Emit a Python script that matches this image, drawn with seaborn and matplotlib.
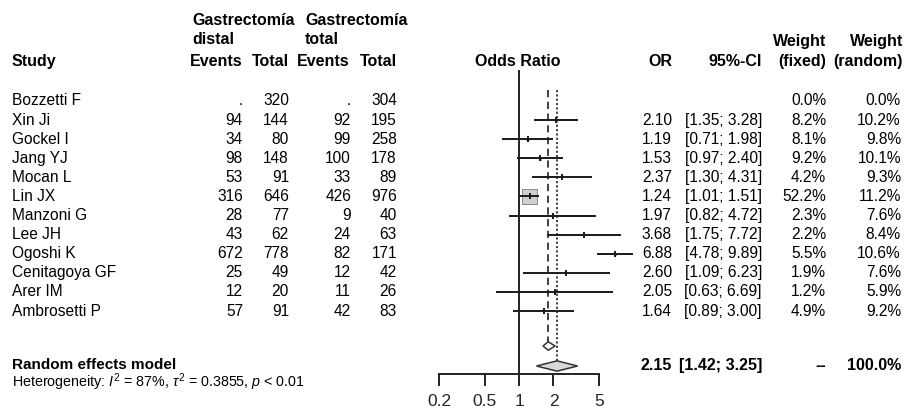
"""Forest plot: distal vs total gastrectomy (odds ratios)."""
import numpy as np
import pandas as pd
import matplotlib
matplotlib.use('Agg')
import matplotlib.pyplot as plt
import matplotlib.transforms as mtransforms
import seaborn as sns

studies = ['Bozzetti F', 'Xin Ji', 'Gockel I', 'Jang YJ', 'Mocan L', 'Lin JX',
           'Manzoni G', 'Lee JH', 'Ogoshi K', 'Cenitagoya GF', 'Arer IM', 'Ambrosetti P']
events_distal = ['.', '94', '34', '98', '53', '316', '28', '43', '672', '25', '12', '57']
total_distal = [320, 144, 80, 148, 91, 646, 77, 62, 778, 49, 20, 91]
events_total = ['.', '92', '99', '100', '33', '426', '9', '24', '82', '12', '11', '42']
total_total = [304, 195, 258, 178, 89, 976, 40, 63, 171, 42, 26, 83]
odds_ratio = [np.nan, 2.10, 1.19, 1.53, 2.37, 1.24, 1.97, 3.68, 6.88, 2.60, 2.05, 1.64]
ci_low = [np.nan, 1.35, 0.71, 0.97, 1.30, 1.01, 0.82, 1.75, 4.78, 1.09, 0.63, 0.89]
ci_high = [np.nan, 3.28, 1.98, 2.40, 4.31, 1.51, 4.72, 7.72, 9.89, 6.23, 6.69, 3.00]
weight_fixed = [0.0, 8.2, 8.1, 9.2, 4.2, 52.2, 2.3, 2.2, 5.5, 1.9, 1.2, 4.9]
weight_random = [0.0, 10.2, 9.8, 10.1, 9.3, 11.2, 7.6, 8.4, 10.6, 7.6, 5.9, 9.2]

# pooled estimates
fixed_or, fixed_lo, fixed_hi = 1.80, 1.62, 2.07
random_or, random_lo, random_hi = 2.15, 1.42, 3.25

x_ticks = [0.2, 0.5, 1, 2, 5]
x_tick_labels = ['0.2', '0.5', '1', '2', '5']

df = pd.DataFrame({'study': studies, 'ev_d': events_distal, 'tot_d': total_distal,
                   'ev_t': events_total, 'tot_t': total_total, 'or': odds_ratio,
                   'lo': ci_low, 'hi': ci_high, 'wf': weight_fixed, 'wr': weight_random})
df['row'] = np.arange(len(df))

sns.set_theme(style='white')
plt.rcParams['font.family'] = ['Liberation Sans', 'DejaVu Sans']
plt.rcParams['mathtext.fontset'] = 'custom'
plt.rcParams['mathtext.rm'] = 'Liberation Sans'
plt.rcParams['mathtext.it'] = 'Liberation Sans:italic'
plt.rcParams['mathtext.bf'] = 'Liberation Sans:bold'

W, H = 906, 412
fig = plt.figure(figsize=(W / 100, H / 100), dpi=100)
fig.patch.set_facecolor('white')

# pixel layout: row 0 at y=101px, step 19.1px
y0, step = 101.0, 19.1
ax = fig.add_axes([439 / W, 0, 160 / W, 1])
ax.set_xscale('log')
ax.set_xlim(0.2, 5)
ax.set_ylim((H - y0) / step, (0 - y0) / step)
ax.set_facecolor('none')
ax.minorticks_off()
for s in ['top', 'left', 'right']:
    ax.spines[s].set_visible(False)
axis_row = (374 - y0) / step
ax.spines['bottom'].set_position(('data', axis_row))
ax.spines['bottom'].set_bounds(0.2, 5)
ax.spines['bottom'].set_color('#222222')
ax.spines['bottom'].set_linewidth(1.4)
ax.set_xticks(x_ticks)
ax.set_xticklabels(x_tick_labels)
ax.tick_params(axis='x', direction='out', length=8.5, width=1.4, color='#222222',
               pad=6, labelsize=12.5, bottom=True)
ax.set_yticks([])

fixed_row = (346 - y0) / step
random_row = (366 - y0) / step

# reference lines
ax.vlines(1, (70 - y0) / step, axis_row, color='#222222', lw=1.4)
ax.vlines(fixed_or, (90 - y0) / step, fixed_row - 0.22, color='#333333', lw=1.3,
          linestyles=(0, (4, 2.5)))
ax.vlines(random_or, (90 - y0) / step, random_row - 0.27, color='#333333', lw=1.3,
          linestyles=(0, (1.2, 1.2)))

d = df.dropna(subset=['or'])
ax.hlines(d['row'], d['lo'], d['hi'], color='#1a1a1a', lw=1.4, clip_on=False, zorder=3)
box_px = 15 * d['wf'] / d['wf'].max()
sns.scatterplot(x=d['or'], y=d['row'], marker='s', s=(box_px * 0.72) ** 2,
                color='#cfcfcf', edgecolor='#8a8a8a', linewidth=0.7, ax=ax,
                zorder=2, clip_on=False, legend=False)
sns.scatterplot(x=d['or'], y=d['row'], marker='|', s=24, color='#1a1a1a',
                linewidth=1.4, ax=ax, zorder=4, clip_on=False, legend=False)
ax.set_xlabel('')
ax.set_ylabel('')


def diamond(est, lo, hi, row, half, face):
    ax.fill([lo, est, hi, est, lo], [row, row - half, row, row + half, row],
            facecolor=face, edgecolor='#333333', lw=1.1, clip_on=False, zorder=3)


diamond(fixed_or, fixed_lo, fixed_hi, fixed_row, 0.22, 'white')
diamond(random_or, random_lo, random_hi, random_row, 0.27, '#d9d9d9')

# text columns (x in figure pixels, y in data rows)
tr = mtransforms.blended_transform_factory(fig.transFigure, ax.transData)


def txt(xpx, row, s, ha='left', bold=False, size=11.2):
    ax.text(xpx / W, row, s, transform=tr, ha=ha, va='center', fontsize=size,
            fontweight='bold' if bold else 'normal', color='black', clip_on=False)


def prow(ypx):
    return (ypx - y0) / step


hs = 11.5
txt(192, prow(21), 'Gastrectomía', bold=True, size=hs)
txt(192, prow(40), 'distal', bold=True, size=hs)
txt(305, prow(21), 'Gastrectomía', bold=True, size=hs)
txt(305, prow(40), 'total', bold=True, size=hs)
txt(12, prow(62), 'Study', bold=True, size=hs)
txt(243, prow(62), 'Events', ha='right', bold=True, size=hs)
txt(289, prow(62), 'Total', ha='right', bold=True, size=hs)
txt(350, prow(62), 'Events', ha='right', bold=True, size=hs)
txt(397, prow(62), 'Total', ha='right', bold=True, size=hs)
txt(518, prow(62), 'Odds Ratio', ha='center', bold=True, size=hs)
txt(672, prow(62), 'OR', ha='right', bold=True, size=hs)
txt(762, prow(62), '95%-CI', ha='right', bold=True, size=hs)
txt(826, prow(42), 'Weight', ha='right', bold=True, size=hs)
txt(826, prow(62), '(fixed)', ha='right', bold=True, size=hs)
txt(903, prow(42), 'Weight', ha='right', bold=True, size=hs)
txt(903, prow(62), '(random)', ha='right', bold=True, size=hs)

for _, r in df.iterrows():
    txt(12, r['row'], r['study'])
    txt(243, r['row'], r['ev_d'], ha='right')
    txt(289, r['row'], str(r['tot_d']), ha='right')
    txt(351, r['row'], r['ev_t'], ha='right')
    txt(397, r['row'], str(r['tot_t']), ha='right')
    if not np.isnan(r['or']):
        txt(672, r['row'], f"{r['or']:.2f}", ha='right')
        txt(762, r['row'], f"[{r['lo']:.2f}; {r['hi']:.2f}]", ha='right')
    txt(826, r['row'], f"{r['wf']:.1f}%", ha='right')
    txt(901, r['row'], f"{r['wr']:.1f}%", ha='right')

txt(12, prow(365), 'Random effects model', bold=True, size=11)
txt(672, random_row, f'{random_or:.2f}', ha='right', bold=True, size=hs)
txt(762, random_row, f'[{random_lo:.2f}; {random_hi:.2f}]', ha='right', bold=True, size=hs)
txt(826, random_row, '--', ha='right', bold=True, size=hs)
txt(901, random_row, '100.0%', ha='right', bold=True, size=hs)
txt(12, prow(382), r'Heterogeneity: $I^2$ = 87%, $\tau^2$ = 0.3855, $p$ < 0.01', size=10.3)

fig.savefig('out.png', dpi=100)
